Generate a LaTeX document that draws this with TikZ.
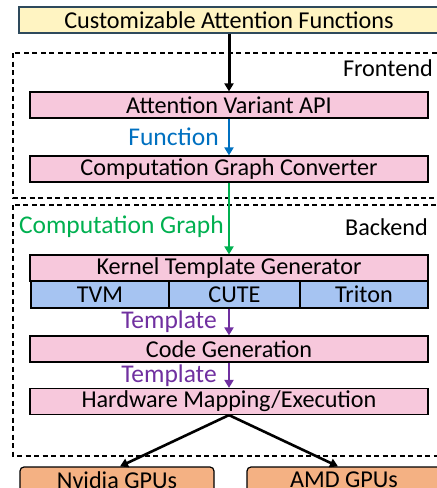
\documentclass[tikz,border=0pt]{standalone}
\usepackage{fontspec}
\setmainfont{Carlito}
\usetikzlibrary{arrows.meta,positioning}

\definecolor{inyellow}{HTML}{FFF4C2}
\definecolor{inborder}{HTML}{2E4A5C}
\definecolor{stagepink}{HTML}{F7C8DC}
\definecolor{libblue}{HTML}{A6C4F2}
\definecolor{gpuorange}{HTML}{F4B183}
\definecolor{funcblue}{HTML}{0070C0}
\definecolor{graphgreen}{HTML}{00B050}
\definecolor{tplpurple}{HTML}{7030A0}

\begin{document}
\begin{tikzpicture}[x=1pt,y=-1pt,font=\fontsize{24.2}{28}\selectfont,
  >={Triangle[width=9pt,length=8pt]}]
 \tikzstyle{block}=[draw=black,line width=1.2pt,fill=stagepink,minimum height=26pt,minimum width=398pt,inner sep=0pt]
 \tikzstyle{lib}=[block,fill=libblue,minimum height=27pt]
 \tikzstyle{gpu}=[block,fill=gpuorange,rounded corners=4pt,minimum width=194pt]
 \tikzstyle{frame}=[draw=black,line width=1.2pt,dash pattern=on 5pt off 3.5pt]
 \tikzstyle{flow}=[->,line width=2.6pt]
 \tikzstyle{tag}=[left,inner sep=0pt,xshift=-9pt,font=\fontsize{25.5}{30}\selectfont]

\useasboundingbox (0,0) rectangle (437,488);
\clip (0,0) rectangle (437,488);

% frontend / backend frames
\draw[frame] (13,53) rectangle (441,198);
\draw[frame] (13,205) rectangle (441,456);
\node[anchor=east,inner sep=0pt] (fe) at (433,68) {Frontend};
\node[anchor=east,inner sep=0pt] (be) at (428,227) {Backend};

\node[block,fill=inyellow,draw=inborder,minimum width=420pt] (custom) at (229,20) {Customizable Attention Functions};

\node[block] (api) at (229,105) {Attention Variant API};
\node[block] (conv) at (229,169) {Computation Graph Converter};

\node[block] (kernel) at (229,268) {Kernel Template Generator};
\node[lib,minimum width=138pt] (tvm) at (100,294.5) {TVM};
\node[lib,minimum width=131pt] (cute) at (234.5,294.5) {CUTE};
\node[lib,minimum width=128pt] (triton) at (364,294.5) {Triton};
\node[block] (codegen) at (229,349) {Code Generation};
\node[block] (hw) at (229,401.5) {Hardware Mapping/Execution};

\node[gpu] (nvidia) at (117,480) {Nvidia GPUs};
\node[gpu] (amd) at (344,480) {AMD GPUs};

\draw[flow,line width=3pt] (custom) -- (api);
\draw[flow,funcblue] (api) -- node[tag,pos=0.5] {Function} (conv);
\draw[flow,graphgreen] (conv) -- node[tag,pos=0.62,xshift=5pt] {Computation Graph} (kernel);
\draw[flow,tplpurple] (cute.south -| codegen.north) -- node[tag,xshift=-2pt] {Template} (codegen);
\draw[flow,tplpurple] (codegen) -- node[tag,xshift=-2pt] {Template} (hw);
\draw[flow] (hw.south) -- ([xshift=3pt]nvidia.north);
\draw[flow] (hw.south) -- ([xshift=-6pt]amd.north);

\end{tikzpicture}
\end{document}
